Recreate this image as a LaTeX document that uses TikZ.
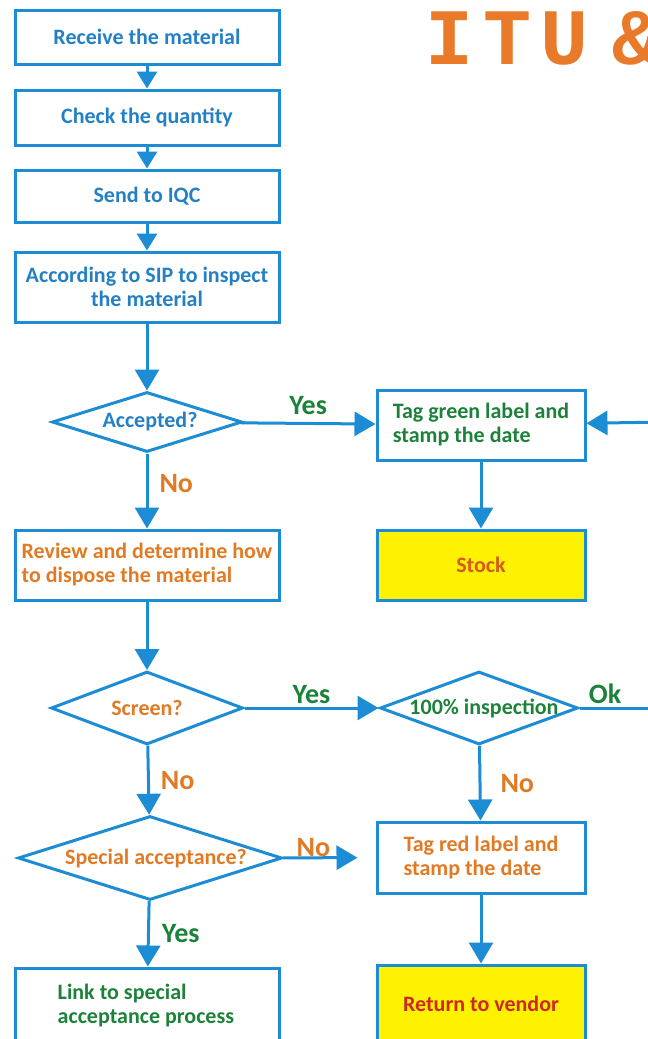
\documentclass[tikz,border=0pt]{standalone}
\usepackage{fontspec}
\setmainfont{Carlito}
\newfontfamily\titlefont[LetterSpace=12]{Liberation Mono}
\usetikzlibrary{arrows.meta,shapes.geometric}
\definecolor{lblue}{RGB}{28,140,212}
\definecolor{tblue}{RGB}{36,128,196}
\definecolor{tgreen}{RGB}{28,130,58}
\definecolor{torange}{RGB}{224,122,36}
\definecolor{ttitle}{RGB}{232,122,42}
\definecolor{tyellow}{RGB}{255,242,0}
\definecolor{tstock}{RGB}{214,90,30}
\definecolor{tred}{RGB}{206,40,30}
\begin{document}
\begin{tikzpicture}[x=1pt,y=-1pt,
  every node/.style={font=\fontsize{22}{24}\selectfont\bfseries},
  box/.style={draw=lblue,line width=3pt,rectangle,inner sep=0pt,align=center},
  lbox/.style={box,minimum width=264pt},
  rbox/.style={box,minimum width=208pt},
  dia/.style={draw=lblue,line width=3pt,diamond,inner sep=0pt},
  conn/.style={draw=lblue,line width=3pt},
  arr/.style={conn,-{Triangle[width=24pt,length=21pt]}},
  sarr/.style={conn,-{Triangle[width=20pt,length=17pt]}},
  lbl/.style={font=\fontsize{28}{30}\selectfont\bfseries,inner sep=2pt}
]
\useasboundingbox (0,0) rectangle (648,1039);
\clip (0,0) rectangle (648,1039);

\node[ttitle,anchor=west,font=\titlefont\fontsize{80}{80}\selectfont\bfseries] (title) at (422,38) {ITU\kern-34pt{} \&};

\node[lbox,text=tblue,minimum height=54pt] (b1) at (147,37) {Receive the material};
\node[lbox,text=tblue,minimum height=55pt] (b2) at (147,117.5) {Check the quantity};
\node[lbox,text=tblue,minimum height=52pt] (b3) at (147,196) {Send to IQC};
\node[lbox,text=tblue,minimum height=70pt] (b4) at (147,287) {According to SIP to inspect\\the material};
\node[dia,text=tblue,minimum width=190pt,minimum height=60pt] (acc) at (147,422) {\makebox[0pt]{\hspace{6pt}Accepted?}};
\node[lbox,text=torange,minimum height=70pt,align=left] (review) at (147,565) {Review and determine how\\to dispose the material};
\node[dia,text=torange,minimum width=192pt,minimum height=73pt] (screen) at (147,708) {\makebox[0pt]{Screen?}};
\node[dia,text=torange,minimum width=264pt,minimum height=84pt] (spec) at (150,858) {\makebox[0pt]{\hspace{12pt}Special acceptance?}};
\node[lbox,minimum height=74pt,
  label={[text=tgreen,align=left,anchor=west,inner sep=0pt,xshift=44pt]west:{Link to special\\acceptance process}}] (link) at (147,1005) {};

\node[rbox,text=tgreen,minimum height=70pt,align=left] (tg) at (481,425) {Tag green label and\\stamp the date};
\node[rbox,fill=tyellow,text=tstock,minimum height=70pt] (stock) at (481,565) {Stock};
\node[dia,text=tgreen,minimum width=198pt,minimum height=73pt] (insp) at (479,708) {\makebox[0pt]{\hspace{10pt}100\% inspection}};
\node[rbox,text=torange,minimum height=71pt,align=left] (tr) at (481,857.5) {Tag red label and\\stamp the date};
\node[rbox,fill=tyellow,text=tred,minimum height=77pt] (ret) at (481,1003.5) {Return to vendor};

\coordinate (rin) at (665,422);
\coordinate (okout) at (665,708);

\draw[sarr] (b1) -- (b2);
\draw[sarr] (b2) -- (b3);
\draw[sarr] (b3) -- (b4);
\draw[arr] (b4) -- (acc);
\draw[arr] (acc) -- node[lbl,above=5pt,text=tgreen]{Yes} (tg);
\draw[arr] (acc) -- node[lbl,right=9pt,pos=0.4,text=torange]{No} (review);
\draw[arr] (rin) -- (tg);
\draw[arr] (tg) -- (stock);
\draw[arr] (review) -- (screen);
\draw[arr] (screen) -- node[lbl,above=1pt,text=tgreen]{Yes} (insp);
\draw[conn] (insp) -- node[lbl,above=1pt,pos=0.3,text=tgreen]{Ok} (okout);
\draw[arr] (insp) -- node[lbl,right=17pt,pos=0.5,text=torange]{No} (tr);
\draw[arr] (screen) -- node[lbl,right=9pt,pos=0.5,text=torange]{No} (spec);
\draw[arr,shorten >=18pt] (spec) -- node[lbl,above=-2pt,pos=0.33,text=torange]{No} (tr);
\draw[arr] (spec) -- node[lbl,right=10pt,pos=0.5,text=tgreen]{Yes} (link);
\draw[arr] (tr) -- (ret);
\end{tikzpicture}
\end{document}
